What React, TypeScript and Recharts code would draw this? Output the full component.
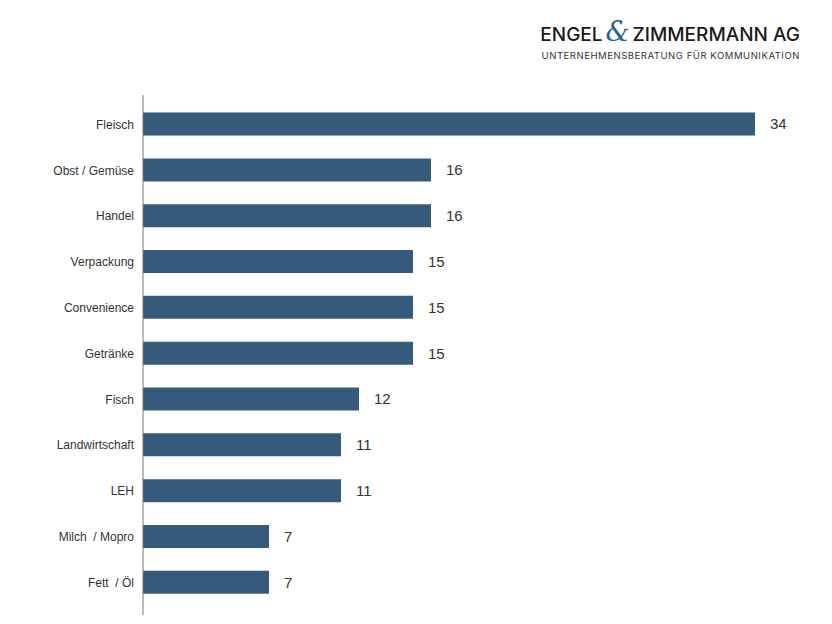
import { Bar, BarChart, LabelList, XAxis, YAxis } from 'recharts';

const categories = [
  'Fleisch',
  'Obst / Gemüse',
  'Handel',
  'Verpackung',
  'Convenience',
  'Getränke',
  'Fisch',
  'Landwirtschaft',
  'LEH',
  'Milch\u00a0 / Mopro',
  'Fett\u00a0 / Öl',
];
const values = [34, 16, 16, 15, 15, 15, 12, 11, 11, 7, 7];

const rows = categories.map((name, i) => ({ name, value: values[i] }));

const barColor = '#355a7c';
const textColor = '#333333';
const font = '"Liberation Sans", Arial, sans-serif';

export default function App() {
  return (
    <div style={{ position: 'absolute', left: 0, top: 0, width: 832, height: 624, background: '#fff', fontFamily: font }}>
      <div style={{ position: 'absolute', right: 32, top: 18, textAlign: 'right' }}>
        <div
          style={{
            fontFamily: 'Inter, "Noto Sans", sans-serif',
            fontWeight: 500,
            fontSize: 19,
            color: '#1a1a1a',
            whiteSpace: 'nowrap',
            lineHeight: '28px',
          }}
        >
          ENGEL
          <span
            style={{
              color: '#1f6590',
              fontFamily: '"DejaVu Serif", serif',
              fontStyle: 'italic',
              fontWeight: 400,
              fontSize: 27,
              margin: '0 3px 0 3px',
            }}
          >
            &amp;
          </span>
          ZIMMERMANN AG
        </div>
        <div
          style={{
            fontFamily: 'Inter, "Noto Sans", sans-serif',
            fontSize: 9.5,
            color: '#333',
            letterSpacing: 0.55,
            whiteSpace: 'nowrap',
            marginTop: 1,
          }}
        >
          UNTERNEHMENSBERATUNG FÜR KOMMUNIKATION
        </div>
      </div>
      <BarChart
        width={832}
        height={624}
        data={rows}
        layout="vertical"
        margin={{ top: 95, right: 77, left: 0, bottom: 9 }}
        barSize={23}
      >
        <XAxis type="number" domain={[0, 34]} hide />
        <YAxis
          type="category"
          dataKey="name"
          width={143}
          padding={{ top: 6.6, bottom: 9.4 }}
          tickLine={false}
          axisLine={{ stroke: '#777', strokeWidth: 1 }}
          tickMargin={3}
          tick={{ fontSize: 12, fill: textColor, fontFamily: font }}
          interval={0}
        />
        <Bar dataKey="value" fill={barColor} isAnimationActive={false}>
          <LabelList
            dataKey="value"
            position="right"
            offset={15}
            style={{ fontSize: 15, fill: textColor, fontFamily: font }}
          />
        </Bar>
      </BarChart>
    </div>
  );
}
